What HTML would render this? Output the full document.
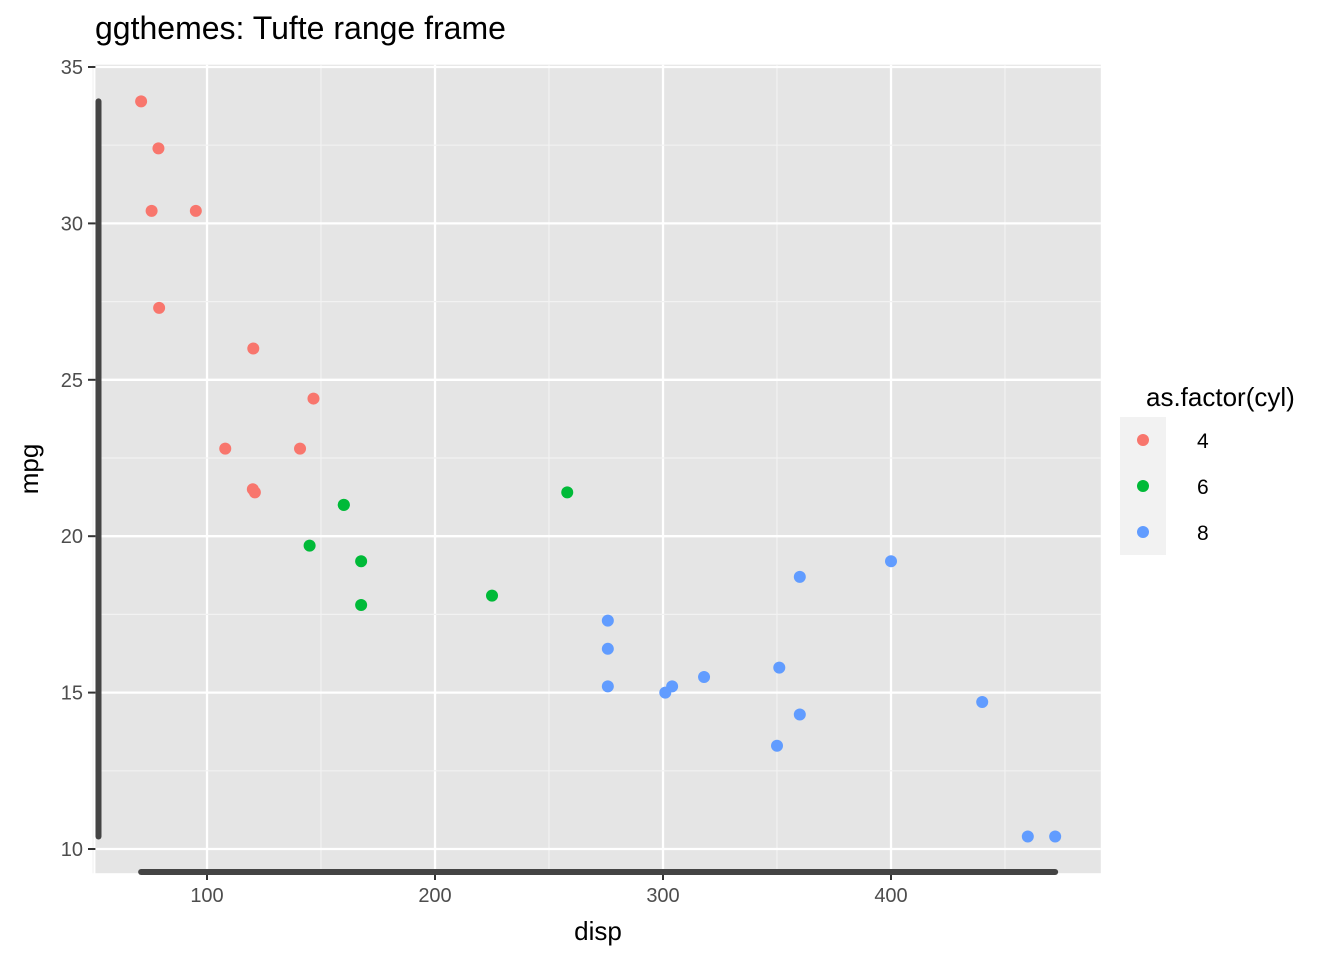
<!DOCTYPE html>
<html><head><meta charset="utf-8"><style>
body{margin:0;background:#fff;font-family:"Liberation Sans",sans-serif}
</style></head><body>
<svg width="1344" height="960" xmlns="http://www.w3.org/2000/svg" id="chart">
<text x="95" y="39" font-size="32" fill="#000" font-family="Liberation Sans">ggthemes: Tufte range frame</text>
<rect x="95.4" y="64.7" width="1005.4" height="808.5" fill="#e5e5e5"/>
<g id="grid"></g><g id="pts"></g><g id="axes"></g>
<text x="598" y="940" font-size="26" text-anchor="middle">disp</text>
<text transform="translate(38,469) rotate(-90)" font-size="26" text-anchor="middle">mpg</text>
<g>
<text x="1146" y="406" font-size="26">as.factor(cyl)</text>
<rect x="1120" y="417" width="46" height="46" fill="#f2f2f2"/>
<rect x="1120" y="463" width="46" height="46" fill="#f2f2f2"/>
<rect x="1120" y="509" width="46" height="46" fill="#f2f2f2"/>
<circle cx="1143" cy="440" r="6" fill="#F8766D"/><circle cx="1143" cy="486" r="6" fill="#00BA38"/><circle cx="1143" cy="532" r="6" fill="#619CFF"/>
<text x="1197" y="448" font-size="21">4</text>
<text x="1197" y="494" font-size="21">6</text>
<text x="1197" y="540" font-size="21">8</text>
</g>
</svg>
<script>
const disp=[160,160,108,258,360,225,360,146.7,140.8,167.6,167.6,275.8,275.8,275.8,472,460,440,78.7,75.7,71.1,120.1,318,304,350,400,79,120.3,95.1,351,145,301,121];
const mpg=[21,21,22.8,21.4,18.7,18.1,14.3,24.4,22.8,19.2,17.8,16.4,17.3,15.2,10.4,10.4,14.7,32.4,30.4,33.9,21.5,15.5,15.2,13.3,19.2,27.3,26,30.4,15.8,19.7,15,21.4];
const cyl=[6,6,4,6,8,6,8,4,4,6,6,8,8,8,8,8,8,4,4,4,4,8,8,8,8,4,4,4,8,6,8,4];
const xTicks=[100,200,300,400];
const yTicks=[10,15,20,25,30,35];
const colors={4:"#F8766D",6:"#00BA38",8:"#619CFF"};
const NS="http://www.w3.org/2000/svg";
const xS=v=>95.4+(v-51.05)*2.28;
const yS=v=>849-(v-10)*31.28;
function mk(tag,attrs,parent){const e=document.createElementNS(NS,tag);for(const k in attrs)e.setAttribute(k,attrs[k]);document.getElementById(parent).appendChild(e);return e;}
xTicks.forEach((t,i)=>{
  let m=mk('line',{x1:xS(t+50),x2:xS(t+50),y1:64.7,y2:873.2,stroke:'#f2f2f2','stroke-width':1.2},'grid');
  
  
  if(i===0){let m0=mk('line',{x1:xS(t-50),x2:xS(t-50),y1:64.7,y2:873.2,stroke:'#f2f2f2','stroke-width':1.2},'grid');}
  let g=mk('line',{x1:xS(t),x2:xS(t),y1:64.7,y2:873.2,stroke:'#fff','stroke-width':2.3},'grid');
  
  
  let tk=mk('line',{x1:xS(t),x2:xS(t),y1:873.2,y2:880,stroke:'#333','stroke-width':2},'axes');
  let tx=mk('text',{x:xS(t),y:902,'font-size':20,fill:'#4d4d4d','text-anchor':'middle'},'axes');
  tx.textContent=t;
  
  
});
yTicks.forEach(t=>{
  if(t<35){let m=mk('line',{x1:95.4,x2:1100.8,y1:yS(t+2.5),y2:yS(t+2.5),stroke:'#f2f2f2','stroke-width':1.2},'grid');}
  let g=mk('line',{x1:95.4,x2:1100.8,y1:yS(t),y2:yS(t),stroke:'#fff','stroke-width':2.3},'grid');
  
  
  mk('line',{x1:88,x2:95.4,y1:yS(t),y2:yS(t),stroke:'#333','stroke-width':2},'axes');
  let tx=mk('text',{x:83,y:yS(t)+7,'font-size':20,fill:'#4d4d4d','text-anchor':'end'},'axes');
  tx.textContent=t;
  
  
});
const xmin=Math.min(...disp),xmax=Math.max(...disp),ymin=Math.min(...mpg),ymax=Math.max(...mpg);
let fy=mk('line',{x1:98.5,x2:98.5,y1:yS(ymax),y2:yS(ymin),stroke:'#444','stroke-width':6,'stroke-linecap':'round'},'axes');


let fx=mk('line',{x1:xS(xmin),x2:xS(xmax),y1:872,y2:872,stroke:'#444','stroke-width':6,'stroke-linecap':'round'},'axes');


disp.forEach((d,i)=>{
  let c=mk('circle',{cx:xS(d),cy:yS(mpg[i]),r:6,fill:colors[cyl[i]]},'pts');
  
  
});
</script>
</body></html>
